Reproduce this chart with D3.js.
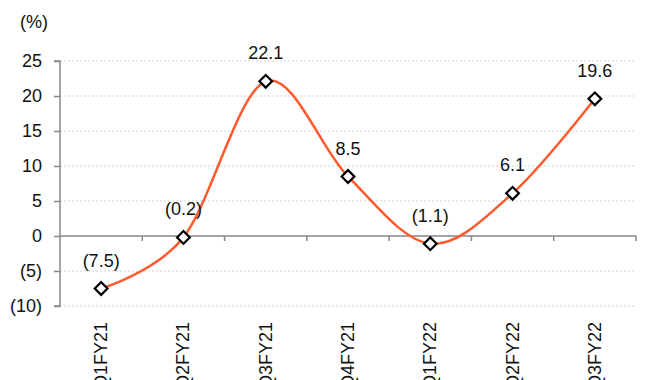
<!DOCTYPE html>
<html><head><meta charset="utf-8">
<script src="https://cdn.jsdelivr.net/npm/d3@7"></script>
<style>body{margin:0;background:#fff}svg{display:block}text{font-family:"Liberation Sans",Arial,sans-serif;fill:#111}</style>
</head><body><svg id="c" width="654" height="380"></svg>
<script>
const categories = ["Q1FY21","Q2FY21","Q3FY21","Q4FY21","Q1FY22","Q2FY22","Q3FY22"];
const values = [-7.5, -0.2, 22.1, 8.5, -1.1, 6.1, 19.6];
const labels = ["(7.5)","(0.2)","22.1","8.5","(1.1)","6.1","19.6"];
const yTicks = [-10,-5,0,5,10,15,20,25];
const yTickLabels = ["(10)","(5)","0","5","10","15","20","25"];

const svg = d3.select("#c");
const x = d3.scaleBand().domain(categories).range([60,636]);
const y = d3.scaleLinear().domain([-10,25]).range([306,61]);
const fs = 18;

// gridlines
svg.append("g").selectAll("line").data(yTicks.filter(t=>t!==0)).join("line")
  .attr("x1",60).attr("x2",636).attr("y1",d=>y(d)).attr("y2",d=>y(d))
  .attr("stroke","#d4d4d4").attr("stroke-width",1).attr("stroke-dasharray","2,2");

// y axis
const yAxis = d3.axisLeft(y).tickValues(yTicks).tickSize(6).tickPadding(12)
  .tickFormat((d,i)=>yTickLabels[i]);
const gy = svg.append("g").attr("transform","translate(60,0)").call(yAxis);
gy.select(".domain").attr("stroke","#888").attr("stroke-width",1.5).attr("d","M-6,"+y(25)+"H0V"+y(-10)+"H-6");
gy.selectAll(".tick line").attr("stroke","#888").attr("stroke-width",1.5);
gy.selectAll(".tick text").attr("font-size",fs).attr("font-family","Liberation Sans, Arial, sans-serif").attr("fill","#111");

// x axis at zero
const xAxis = d3.axisBottom(x).tickSize(0).tickFormat("");
const gx = svg.append("g").attr("transform","translate(0,"+y(0)+")").call(xAxis);
gx.select(".domain").attr("stroke","#888").attr("stroke-width",1.5).attr("d","M60,0H636V5");
gx.selectAll(".tick").remove();
gx.selectAll(".bt").data(categories.slice(1)).join("line").attr("class","bt")
  .attr("x1",d=>x(d)).attr("x2",d=>x(d)).attr("y1",0).attr("y2",5)
  .attr("stroke","#888").attr("stroke-width",1.5);

// category labels
svg.append("g").selectAll("text").data(categories).join("text")
  .attr("transform",d=>"translate("+(x(d)+x.bandwidth()/2+6)+",322) rotate(-90)")
  .attr("text-anchor","end").attr("font-size",fs).text(d=>d);

// "(%)"
svg.append("text").attr("x",20).attr("y",28).attr("font-size",fs).text("(%)");

// line
const cx = d=>x(d)+x.bandwidth()/2;
const line = d3.line().x((d,i)=>cx(categories[i])).y(d=>y(d)).curve(d3.curveCardinal.tension(0));
svg.append("path").datum(values).attr("d",line).attr("fill","none")
  .attr("stroke","#FF5B2E").attr("stroke-width",2.5);

// markers
svg.append("g").selectAll("rect").data(values).join("rect")
  .attr("x",-4.5).attr("y",-4.5).attr("width",9).attr("height",9)
  .attr("transform",(d,i)=>"translate("+cx(categories[i])+","+y(d)+") rotate(45)")
  .attr("fill","#fff").attr("stroke","#000").attr("stroke-width",2.2);

// data labels
svg.append("g").selectAll("text").data(values).join("text")
  .attr("x",(d,i)=>cx(categories[i])).attr("y",d=>y(d)-22)
  .attr("text-anchor","middle").attr("font-size",fs).text((d,i)=>labels[i]);
</script></body></html>
